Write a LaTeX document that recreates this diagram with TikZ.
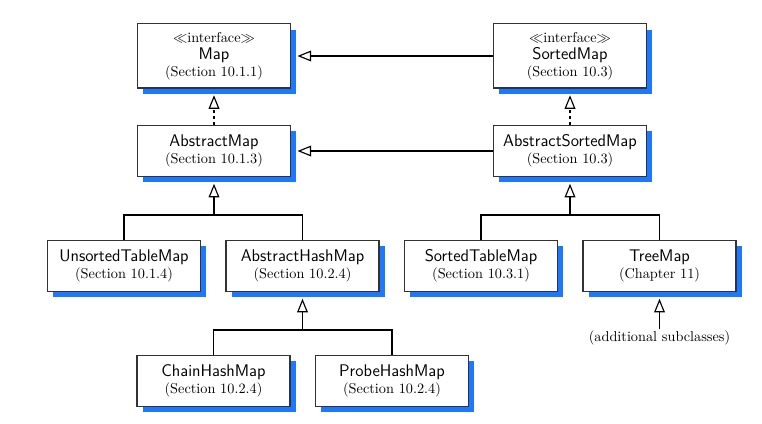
\documentclass[tikz,border=0pt]{standalone}
\usetikzlibrary{shadows,arrows.meta}
\definecolor{shadowblue}{RGB}{30,120,255}
\newcommand\cn[1]{{\fontsize{11.8}{12}\selectfont\sffamily #1}}
\begin{document}
\begin{tikzpicture}[x=0.7pt,y=-0.7pt,
  cls/.style={draw=black!80, fill=white, line width=0.9pt, minimum width=107pt, align=center, inner sep=0pt,
    drop shadow={shadow xshift=4pt, shadow yshift=-4pt, fill=shadowblue, opacity=1}},
  two/.style={cls, minimum height=36pt},
  three/.style={cls, minimum height=45pt},
  gen/.style={-{Triangle[open,length=9.5pt,width=7.5pt]}, line width=0.8pt, shorten >=4.5pt},
  link/.style={line width=0.8pt},
  note/.style={inner sep=1pt}
]
\useasboundingbox (0,0) rectangle (762,423);

\node[three] (map) at (214,56) {$\ll$interface$\gg$\\\cn{Map}\\(Section 10.1.1)};
\node[three] (smap) at (570,56) {$\ll$interface$\gg$\\\cn{SortedMap}\\(Section 10.3)};
\node[two] (amap) at (214,151) {\cn{AbstractMap}\\(Section 10.1.3)};
\node[two] (asmap) at (570,151) {\cn{AbstractSortedMap}\\(Section 10.3)};
\node[two] (utm) at (124,266) {\cn{UnsortedTableMap}\\(Section 10.1.4)};
\node[two] (ahm) at (302.5,266) {\cn{AbstractHashMap}\\(Section 10.2.4)};
\node[two] (stm) at (481,266) {\cn{SortedTableMap}\\(Section 10.3.1)};
\node[two] (tm) at (659.5,266) {\cn{TreeMap}\\(Chapter 11)};
\node[two] (chm) at (213.5,381) {\cn{ChainHashMap}\\(Section 10.2.4)};
\node[two] (phm) at (392,381) {\cn{ProbeHashMap}\\(Section 10.2.4)};
\node[note] (add) at (659.5,338) {(additional subclasses)};

\draw[gen] (smap.west) -- (map.east);
\draw[gen] (asmap.west) -- (amap.east);
\draw[gen, dash pattern=on 2pt off 2pt] (amap.north) -- (map.south);
\draw[gen, dash pattern=on 2pt off 2pt] (asmap.north) -- (smap.south);

\coordinate (j1) at (214,215);
\draw[link] (utm.north) |- (j1);
\draw[link] (ahm.north) |- (j1);
\draw[gen] (j1) -- (amap.south);

\coordinate (j2) at (570,215);
\draw[link] (stm.north) |- (j2);
\draw[link] (tm.north) |- (j2);
\draw[gen] (j2) -- (asmap.south);

\coordinate (j3) at (302.5,330);
\draw[link] (chm.north) |- (j3);
\draw[link] (phm.north) |- (j3);
\draw[gen] (j3) -- (ahm.south);

\draw[gen] (add.north) -- (tm.south);
\end{tikzpicture}
\end{document}
